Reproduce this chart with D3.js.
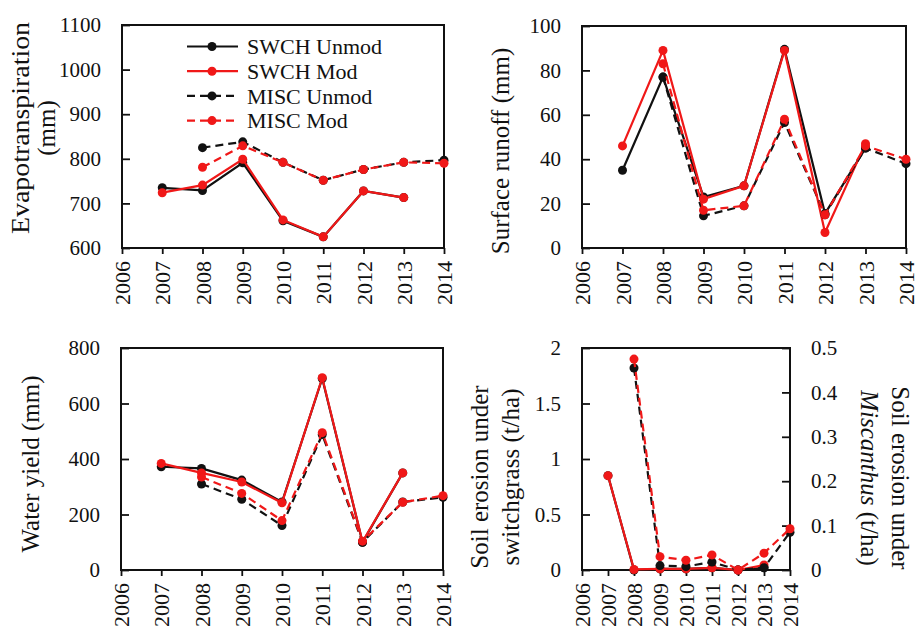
<!DOCTYPE html>
<html>
<head>
<meta charset="utf-8">
<script src="https://cdn.jsdelivr.net/npm/d3@7"></script>
<style>
  html, body { margin: 0; padding: 0; background: #fff; }
  svg text { font-family: "Liberation Serif", "Times New Roman", serif; fill: #111; }
</style>
</head>
<body>
<svg id="chart" width="916" height="637"></svg>
<script>
// Simulation years
const years = [2007, 2008, 2009, 2010, 2011, 2012, 2013, 2014];
const xTicks = [2006, 2007, 2008, 2009, 2010, 2011, 2012, 2013, 2014];

// Evapotranspiration (mm)
const etSwchUnmod = [735, 729, 791, 661, 625, 728, 713, null];
const etSwchMod   = [724, 741, 799, 663, 625, 728, 713, null];
const etMiscUnmod = [null, 825, 838, 792, 752, 776, 792, 797];
const etMiscMod   = [null, 781, 829, 792, 752, 776, 792, 790];

// Surface runoff (mm)
const roSwchUnmod = [35, 77, 23, 28, 89.5, 15.5, 45, null];
const roSwchMod   = [46, 89, 22, 28, 89, 7, 47, null];
const roMiscUnmod = [null, 77, 14.5, 19, 56.5, 15, 45, 38];
const roMiscMod   = [null, 83, 17, 19, 58, 15, 46, 40];

// Water yield (mm)
const wySwchUnmod = [372, 366, 324, 245, 690, 100, 350, null];
const wySwchMod   = [384, 350, 317, 242, 693, 102, 350, null];
const wyMiscUnmod = [null, 310, 255, 160, 488, 100, 245, 262];
const wyMiscMod   = [null, 335, 276, 178, 495, 104, 244, 268];

// Soil erosion (t/ha): switchgrass on the left axis, Miscanthus on the right axis
const seSwchUnmod = [0.85, 0, 0.01, 0.01, 0.02, 0, 0.02, null];
const seSwchMod   = [0.85, 0.005, 0.01, 0.01, 0.02, 0, 0.045, null];
const seMiscUnmod = [null, 0.455, 0.01, 0.008, 0.018, 0, 0.005, 0.085];
const seMiscMod   = [null, 0.475, 0.03, 0.022, 0.034, 0, 0.038, 0.093];

const seriesNames = ["SWCH Unmod", "SWCH Mod", "MISC Unmod", "MISC Mod"];
const RED = "#f01818";
const styles = [
  { color: "#111", dash: null },
  { color: RED, dash: null },
  { color: "#111", dash: "8,5" },
  { color: RED, dash: "8,5" }
];

const svg = d3.select("#chart");

function drawPanel(cfg) {
  const x = d3.scaleLinear().domain([2006, 2014]).range([cfg.x0, cfg.x1]);
  const yL = d3.scaleLinear().domain(cfg.yDomain).range([cfg.y1, cfg.y0]);
  const yR = cfg.yRDomain ? d3.scaleLinear().domain(cfg.yRDomain).range([cfg.y1, cfg.y0]) : null;
  const g = svg.append("g");

  // x axis (outward ticks, vertical labels)
  const xa = g.append("g")
    .attr("transform", `translate(0,${cfg.y1})`)
    .call(d3.axisBottom(x).tickValues(xTicks).tickFormat(d3.format("d")).tickSize(6).tickSizeOuter(0));
  xa.select(".domain").remove();
  xa.selectAll(".tick line").attr("stroke", "#111").attr("stroke-width", 1.8);
  xa.selectAll(".tick text")
    .attr("transform", "rotate(-90)")
    .attr("x", -13).attr("y", 0).attr("dy", "0.35em")
    .attr("text-anchor", "end")
    .style("font-size", "22px");

  // left y axis (inward ticks)
  const ya = g.append("g")
    .attr("transform", `translate(${cfg.x0},0)`)
    .call(d3.axisLeft(yL).tickValues(cfg.yTicks).tickFormat(cfg.yFormat || d3.format("d")).tickSize(-8).tickSizeOuter(0).tickPadding(21));
  ya.select(".domain").remove();
  ya.selectAll(".tick line").attr("stroke", "#111").attr("stroke-width", 1.8);
  ya.selectAll(".tick text").style("font-size", "21px");

  if (yR) {
    const ra = g.append("g")
      .attr("transform", `translate(${cfg.x1},0)`)
      .call(d3.axisRight(yR).tickValues(cfg.yRTicks).tickFormat(d => d === 0 ? "0" : d3.format(".1f")(d)).tickSize(-8).tickSizeOuter(0).tickPadding(21));
    ra.select(".domain").remove();
    ra.selectAll(".tick line").attr("stroke", "#111").attr("stroke-width", 1.8);
    ra.selectAll(".tick text").style("font-size", "21px");
  }

  // plot frame
  g.append("rect")
    .attr("x", cfg.x0).attr("y", cfg.y0)
    .attr("width", cfg.x1 - cfg.x0).attr("height", cfg.y1 - cfg.y0)
    .attr("fill", "none").attr("stroke", "#111").attr("stroke-width", 2);

  // series
  cfg.series.forEach((vals, i) => {
    const yS = (cfg.rightSeries && cfg.rightSeries.includes(i)) ? yR : yL;
    const pts = years.map((yr, k) => ({ yr, v: vals[k] })).filter(p => p.v != null);
    const line = d3.line().x(p => x(p.yr)).y(p => yS(p.v));
    g.append("path")
      .attr("d", line(pts))
      .attr("fill", "none")
      .attr("stroke", styles[i].color)
      .attr("stroke-width", 2.2)
      .attr("stroke-dasharray", styles[i].dash);
    g.selectAll(null).data(pts).enter().append("circle")
      .attr("cx", p => x(p.yr)).attr("cy", p => yS(p.v))
      .attr("r", 4.5).attr("fill", styles[i].color);
  });
  return g;
}

// Top-left: evapotranspiration
drawPanel({
  x0: 122, x1: 444, y0: 25, y1: 248,
  yDomain: [600, 1100], yTicks: d3.range(600, 1101, 100),
  series: [etSwchUnmod, etSwchMod, etMiscUnmod, etMiscMod]
});
// Top-right: surface runoff
drawPanel({
  x0: 582, x1: 906, y0: 26, y1: 248,
  yDomain: [0, 100], yTicks: d3.range(0, 101, 20),
  series: [roSwchUnmod, roSwchMod, roMiscUnmod, roMiscMod]
});
// Bottom-left: water yield
drawPanel({
  x0: 121, x1: 443, y0: 348, y1: 570,
  yDomain: [0, 800], yTicks: d3.range(0, 801, 200),
  series: [wySwchUnmod, wySwchMod, wyMiscUnmod, wyMiscMod]
});
// Bottom-right: soil erosion with two y axes
drawPanel({
  x0: 582, x1: 790, y0: 348, y1: 570,
  yDomain: [0, 2], yTicks: [0, 0.5, 1, 1.5, 2], yFormat: d => String(d),
  yRDomain: [0, 0.5], yRTicks: [0, 0.1, 0.2, 0.3, 0.4, 0.5],
  rightSeries: [2, 3],
  series: [seSwchUnmod, seSwchMod, seMiscUnmod, seMiscMod]
});

// Axis titles
function vTitle(lines, cx, cy, rot, gap) {
  const t = svg.append("text")
    .attr("transform", `translate(${cx},${cy}) rotate(${rot})`)
    .attr("text-anchor", "middle")
    .style("font-size", "25px");
  lines.forEach((ln, i) => {
    const ts = t.append("tspan").attr("x", 0).attr("y", i * gap);
    if (ln.len) ts.attr("textLength", ln.len).attr("lengthAdjust", "spacingAndGlyphs");
    ln.parts.forEach(part => {
      ts.append("tspan").text(part.t).style("font-style", part.i ? "italic" : null);
    });
  });
}
vTitle([{ parts: [{ t: "Evapotranspiration" }], len: 212 }, { parts: [{ t: "(mm)" }] }], 29, 128, -90, 26);
vTitle([{ parts: [{ t: "Surface runoff (mm)" }] }], 509, 151, -90, 0);
vTitle([{ parts: [{ t: "Water yield (mm)" }] }], 39, 464, -90, 0);
vTitle([{ parts: [{ t: "Soil erosion under" }] }, { parts: [{ t: "switchgrass (t/ha)" }] }], 488, 477, -90, 31);
vTitle([{ parts: [{ t: "Soil erosion under" }] }, { parts: [{ t: "Miscanthus", i: true }, { t: " (t/ha)" }] }], 892, 478, 90, 31);

// Legend
const legend = svg.append("g");
seriesNames.forEach((name, i) => {
  const cy = 46.5 + i * 24.7;
  legend.append("line")
    .attr("x1", 187).attr("x2", 238).attr("y1", cy).attr("y2", cy)
    .attr("stroke", styles[i].color).attr("stroke-width", 2.2)
    .attr("stroke-dasharray", styles[i].dash);
  legend.append("circle").attr("cx", 212).attr("cy", cy).attr("r", 4.5).attr("fill", styles[i].color);
  legend.append("text").attr("x", 247).attr("y", cy).attr("dy", "0.35em")
    .style("font-size", "22px").text(name);
});
</script>
</body>
</html>
